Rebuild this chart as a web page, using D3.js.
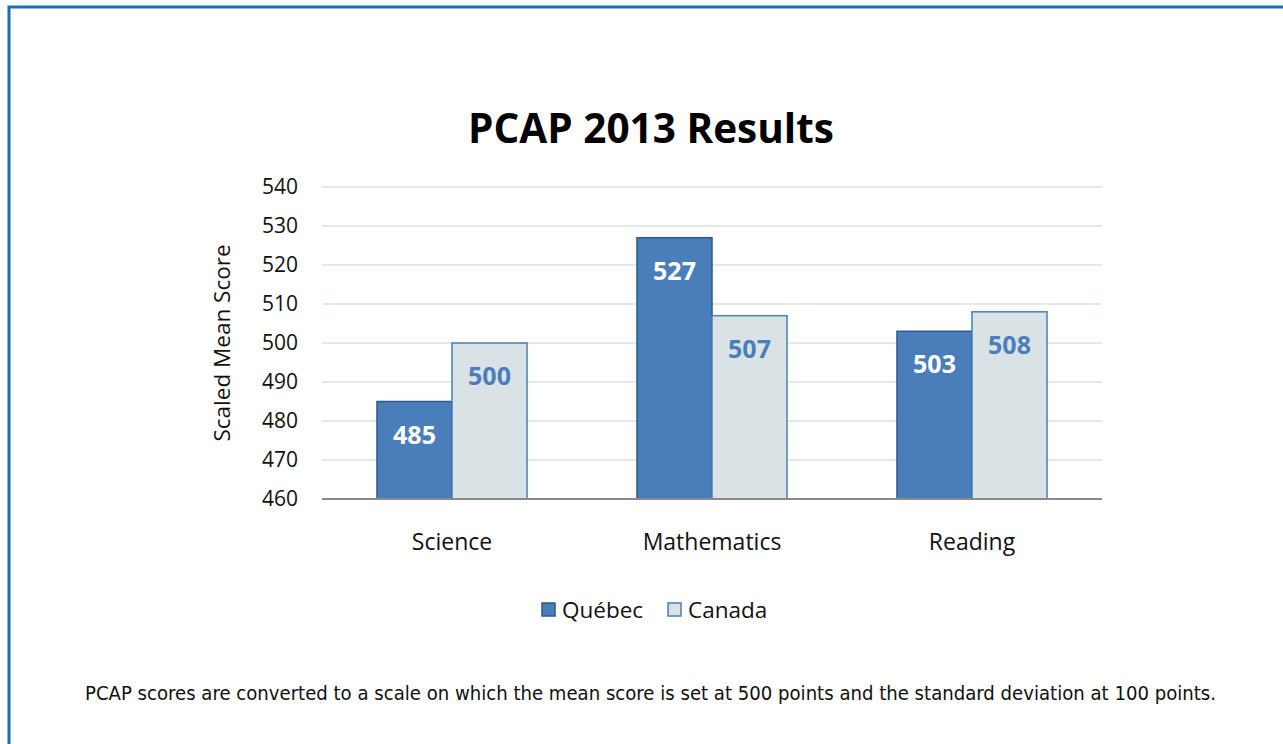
<!DOCTYPE html>
<html>
<head>
<meta charset="utf-8">
<script src="https://cdn.jsdelivr.net/npm/d3@7"></script>
<style>
  body { margin: 0; background: #fff; }
  svg { display: block; }
</style>
</head>
<body>
<div id="chart"></div>
<script>
// data
var categories = ["Science", "Mathematics", "Reading"];
var seriesNames = ["Québec", "Canada"];
var quebec = [485, 527, 503];
var canada = [500, 507, 508];
var yTicks = [460, 470, 480, 490, 500, 510, 520, 530, 540];

var width = 1283, height = 744;
var plot = { left: 322, right: 1102, top: 187, bottom: 499 };

var fills = ["#4a7ebb", "#d9e2e5"];
var strokes = ["#2c5a8c", "#4a7ebb"];
var labelColors = ["#ffffff", "#4a7ebb"];

var svg = d3.select("#chart").append("svg")
	.attr("width", width)
	.attr("height", height);

// frame
svg.append("path")
	.attr("d", "M9,744 V7 H1283")
	.attr("fill", "none")
	.attr("stroke", "#1a6dba")
	.attr("stroke-width", 3);

// title
svg.append("text")
	.attr("x", 651).attr("y", 143)
	.attr("text-anchor", "middle")
	.style("font-family", "'Open Sans', sans-serif")
	.style("font-weight", "bold")
	.style("font-size", "40.5px")
	.text("PCAP 2013 Results");

//////// SCALES ////////
var x = d3.scaleBand()
	.domain(categories)
	.range([plot.left, plot.right])
	.paddingInner(0.423)
	.paddingOuter(0.2115);

var xSeries = d3.scaleBand()
	.domain(seriesNames)
	.range([0, x.bandwidth()]);

var y = d3.scaleLinear()
	.domain([460, 540])
	.range([plot.bottom, plot.top]);

// grid
svg.append("g")
	.selectAll("line")
	.data(yTicks.slice(1))
	.enter().append("line")
	.attr("x1", plot.left).attr("x2", plot.right)
	.attr("y1", function(d) { return y(d); })
	.attr("y2", function(d) { return y(d); })
	.attr("stroke", "#d6e2e6")
	.attr("stroke-width", 1.5);

// y axis
var yAxis = svg.append("g")
	.attr("transform", "translate(" + plot.left + ",0)")
	.call(d3.axisLeft(y).tickValues(yTicks).tickSize(0).tickPadding(24));
yAxis.select(".domain").remove();
yAxis.selectAll("text")
	.style("font-family", "'Open Sans', sans-serif")
	.style("font-size", "21px")
	.attr("fill", "#111");

svg.append("text")
	.attr("transform", "translate(230," + ((plot.top + plot.bottom) / 2) + ") rotate(-90)")
	.attr("text-anchor", "middle")
	.style("font-family", "'Open Sans', sans-serif")
	.style("font-size", "22.5px")
	.attr("fill", "#111")
	.text("Scaled Mean Score");

// bars
var rows = categories.map(function(c, i) {
	return { cat: c, values: [quebec[i], canada[i]] };
});

var groups = svg.append("g").selectAll("g")
	.data(rows)
	.enter().append("g")
	.attr("transform", function(d) { return "translate(" + x(d.cat) + ",0)"; });

groups.selectAll("rect")
	.data(function(d) { return d.values.map(function(v, j) { return { s: seriesNames[j], j: j, v: v }; }); })
	.enter().append("rect")
	.attr("x", function(d) { return xSeries(d.s); })
	.attr("y", function(d) { return y(d.v); })
	.attr("width", xSeries.bandwidth())
	.attr("height", function(d) { return plot.bottom - y(d.v); })
	.attr("fill", function(d) { return fills[d.j]; })
	.attr("stroke", function(d) { return strokes[d.j]; })
	.attr("stroke-width", 1.5);

groups.selectAll(".val")
	.data(function(d) { return d.values.map(function(v, j) { return { s: seriesNames[j], j: j, v: v }; }); })
	.enter().append("text")
	.attr("class", "val")
	.attr("x", function(d) { return xSeries(d.s) + xSeries.bandwidth() / 2; })
	.attr("y", function(d) { return y(d.v) + 42; })
	.attr("text-anchor", "middle")
	.style("font-family", "'Open Sans', sans-serif")
	.style("font-weight", "bold")
	.style("font-size", "25px")
	.attr("fill", function(d) { return labelColors[d.j]; })
	.text(function(d) { return d.v; });

// x axis line + labels
svg.append("line")
	.attr("x1", plot.left).attr("x2", plot.right)
	.attr("y1", plot.bottom).attr("y2", plot.bottom)
	.attr("stroke", "#8a8a8a")
	.attr("stroke-width", 2);

svg.append("g").selectAll("text")
	.data(categories)
	.enter().append("text")
	.attr("x", function(d) { return x(d) + x.bandwidth() / 2; })
	.attr("y", 550)
	.attr("text-anchor", "middle")
	.style("font-family", "'Open Sans', sans-serif")
	.style("font-size", "23px")
	.attr("fill", "#111")
	.text(function(d) { return d; });

// legend
var legendX = [542, 668];
var legend = svg.append("g").selectAll("g")
	.data(seriesNames)
	.enter().append("g")
	.attr("transform", function(d, i) { return "translate(" + legendX[i] + ",603)"; });

legend.append("rect")
	.attr("width", 13).attr("height", 13)
	.attr("fill", function(d, i) { return fills[i]; })
	.attr("stroke", function(d, i) { return strokes[i]; })
	.attr("stroke-width", 1.5);

legend.append("text")
	.attr("x", 20).attr("y", 15)
	.style("font-family", "'Open Sans', sans-serif")
	.style("font-size", "22.5px")
	.attr("fill", "#111")
	.text(function(d) { return d; });

// footnote
svg.append("text")
	.attr("x", 85).attr("y", 700)
	.attr("textLength", 1131)
	.attr("lengthAdjust", "spacingAndGlyphs")
	.style("font-family", "'DejaVu Sans Condensed', 'DejaVu Sans', sans-serif")
	.style("font-size", "20px")
	.attr("fill", "#111")
	.text("PCAP scores are converted to a scale on which the mean score is set at 500 points and the standard deviation at 100 points.");
</script>
</body>
</html>
